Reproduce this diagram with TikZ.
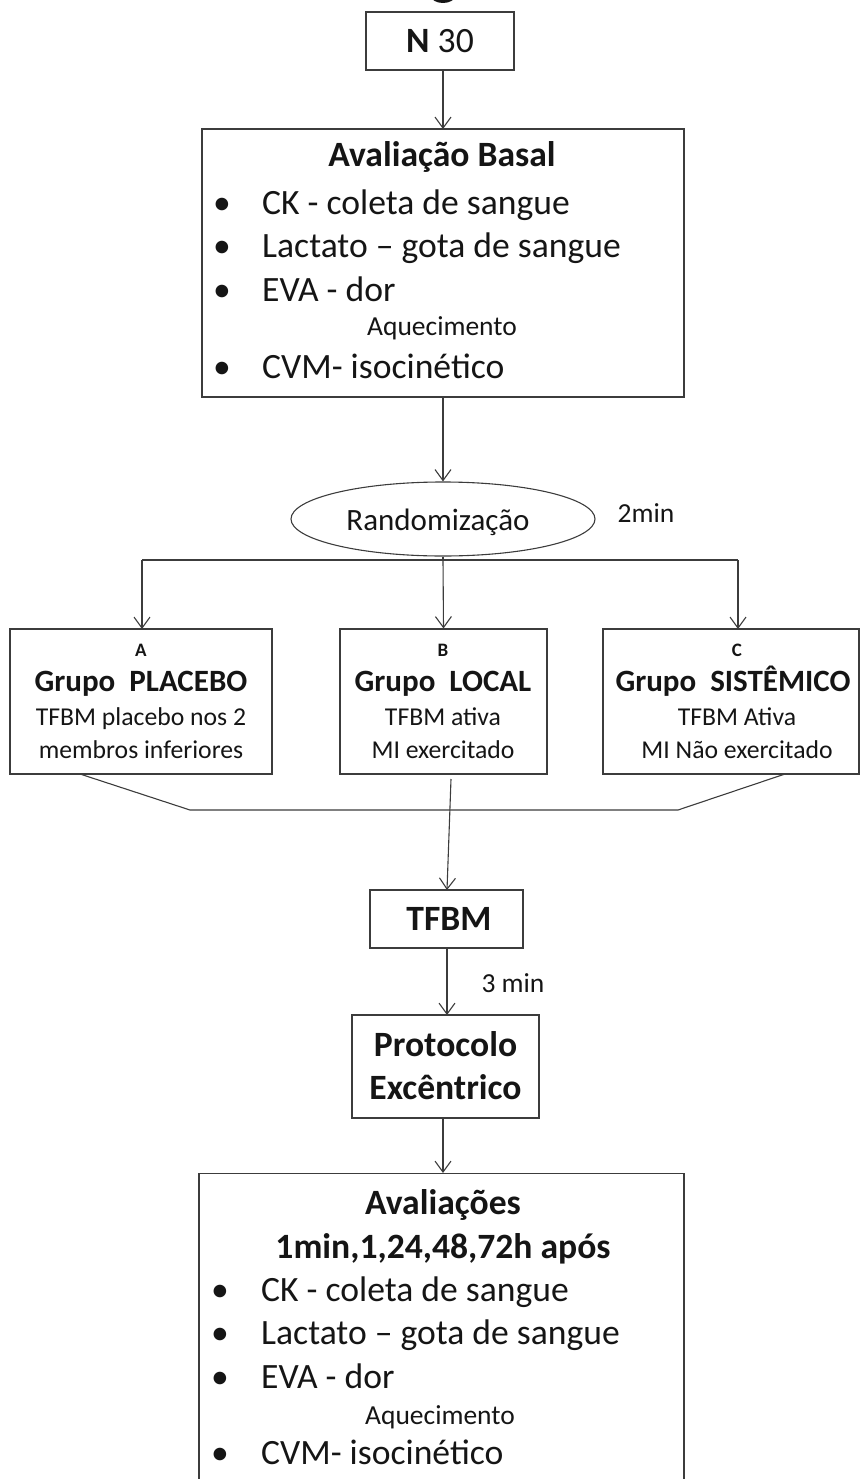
\documentclass[tikz,border=0pt]{standalone}
\usepackage{fontspec}
\setmainfont{Carlito}
\usetikzlibrary{shapes.geometric,arrows.meta}
\definecolor{linec}{HTML}{3C3C3C}
\definecolor{textc}{HTML}{151515}
\newcommand{\fbig}{\fontsize{35.6}{43}\selectfont}
\newcommand{\fmid}{\fontsize{31}{37}\selectfont}
\newcommand{\fsub}{\fontsize{25.7}{31}\selectfont}
\newcommand{\fsmall}{\fontsize{27.5}{33}\selectfont}
\newcommand{\ftiny}{\fontsize{19}{23}\selectfont}
\tikzset{
  box/.style={draw=linec, line width=1.1pt, rectangle, inner sep=0pt},
  txt/.style={inner sep=0pt, anchor=base, text=textc},
  txtw/.style={inner sep=0pt, anchor=base west, text=textc},
  conn/.style={draw=linec, line width=1.1pt},
  arr/.style={conn, -{Straight Barb[length=11pt,width=16pt]}},
}
\begin{document}
\begin{tikzpicture}[x=1pt,y=-1pt]
\useasboundingbox (0,0) rectangle (864,1479);
\clip (0,0) rectangle (864,1479);
\fill[textc] (443,-4) ellipse (12 and 7);
% boxes
\node[box, minimum width=148, minimum height=58] (n30) at (440,41) {};
\node[txt] (n30t) at (440,53) {\fbig\textbf{N} 30};
\node[box, minimum width=482, minimum height=268] (basal) at (443,263) {};
\node[txt] (b0) at (442,166.5) {\fbig\textbf{Avaliação Basal}};
\node[txt] (b1d) at (222,214.5) {\fbig•};
\node[txtw] (b1) at (262,214.5) {\fbig CK - coleta de sangue};
\node[txt] (b2d) at (222,257.5) {\fbig•};
\node[txtw] (b2) at (262,257.5) {\fbig Lactato – gota de sangue};
\node[txt] (b3d) at (222,301) {\fbig•};
\node[txtw] (b3) at (262,301) {\fbig EVA - dor};
\node[txt] (b4) at (442,335) {\fsmall Aquecimento};
\node[txt] (b5d) at (222,378) {\fbig•};
\node[txtw] (b5) at (262,378) {\fbig CVM- isocinético};
\node[draw=linec, line width=1.1pt, ellipse, minimum width=304, minimum height=74, inner sep=0pt] (rand) at (443,519) {};
\node[txt] (randt) at (438,530) {\fmid Randomização};
\node[txt] (twomin) at (646,522) {\fsmall 2min};
% groups
\node[box, minimum width=262, minimum height=145] (ga) at (141,701.5) {};
\node[box, minimum width=207, minimum height=145] (gb) at (443.5,701.5) {};
\node[box, minimum width=256, minimum height=145] (gc) at (731,701.5) {};
\node[txt] (ga0) at (141,656.5) {\ftiny\textbf{A}};
\node[txt] (ga1) at (141,691) {\fmid\textbf{Grupo\ \ PLACEBO}};
\node[txt] (ga2) at (141,725.5) {\fsub TFBM placebo nos 2};
\node[txt] (ga3) at (141,758.5) {\fsub membros inferiores};
\node[txt] (gb0) at (443,656.5) {\ftiny\textbf{B}};
\node[txt] (gb1) at (443,691) {\fmid\textbf{Grupo\ \ LOCAL}};
\node[txt] (gb2) at (443,725.5) {\fsub TFBM ativa};
\node[txt] (gb3) at (443,758.5) {\fsub MI exercitado};
\node[txt] (gc0) at (737,656.5) {\ftiny\textbf{C}};
\node[txt] (gc1) at (733,691) {\fmid\textbf{Grupo\ \ SISTÊMICO}};
\node[txt] (gc2) at (737,725.5) {\fsub TFBM Ativa};
\node[txt] (gc3) at (737,758.5) {\fsub MI Não exercitado};
% lower chain
\node[box, minimum width=153, minimum height=58] (tfbm) at (446.5,919) {};
\node[txt] (tfbmt) at (449,930.5) {\fbig\textbf{TFBM}};
\node[txt] (threemin) at (513,992) {\fsmall 3 min};
\node[box, minimum width=187, minimum height=103] (proto) at (445.5,1066.5) {};
\node[txt] (p1) at (445.5,1056.5) {\fbig\textbf{Protocolo}};
\node[txt] (p2) at (445.5,1099.5) {\fbig\textbf{Excêntrico}};
\node[box, minimum width=485, minimum height=340, anchor=north] (final) at (441.5,1173) {};
\node[txt] (f0) at (443,1214.5) {\fbig\textbf{Avaliações}};
\node[txt] (f1) at (443,1258.5) {\fbig\textbf{1min,1,24,48,72h após}};
\node[txt] (f2d) at (220,1301.5) {\fbig•};
\node[txtw] (f2) at (261,1301.5) {\fbig CK - coleta de sangue};
\node[txt] (f3d) at (220,1344.5) {\fbig•};
\node[txtw] (f3) at (261,1344.5) {\fbig Lactato – gota de sangue};
\node[txt] (f4d) at (220,1388.5) {\fbig•};
\node[txtw] (f4) at (261,1388.5) {\fbig EVA - dor};
\node[txt] (f5) at (440,1424) {\fsmall Aquecimento};
\node[txt] (f6d) at (220,1464.5) {\fbig•};
\node[txtw] (f6) at (261,1464.5) {\fbig CVM- isocinético};
% connectors
\coordinate (n30s) at (443,70);
\coordinate (basaln) at (443,129);
\draw[arr] (n30s) -- (basaln);
\coordinate (basals) at (443,397);
\draw[arr] (basals) -- (rand.north);
\coordinate (br) at (443,560);
\coordinate (brL) at (142,560);
\coordinate (brR) at (738,560);
\draw[conn] (rand.south) -- (br);
\draw[conn] (brL) -- (brR);
\coordinate (gan) at (142,629);
\coordinate (gcn) at (738,629);
\draw[arr] (brL) -- (gan);
\draw[arr] (br) -- (gb.north);
\draw[arr] (brR) -- (gcn);
\coordinate (mL1) at (80,774);
\coordinate (mL2) at (190,810);
\coordinate (mR2) at (678,810);
\coordinate (mR1) at (785,774);
\draw[conn] (mL1) -- (mL2) -- (mR2) -- (mR1);
\coordinate (mB) at (451,779);
\coordinate (tfbmn) at (447,890);
\draw[arr] (mB) -- (tfbmn);
\coordinate (tfbms) at (447,948);
\coordinate (proton) at (447,1015);
\draw[arr] (tfbms) -- (proton);
\coordinate (protos) at (443,1118);
\coordinate (finaln) at (443,1173);
\draw[arr] (protos) -- (finaln);
\end{tikzpicture}
\end{document}
